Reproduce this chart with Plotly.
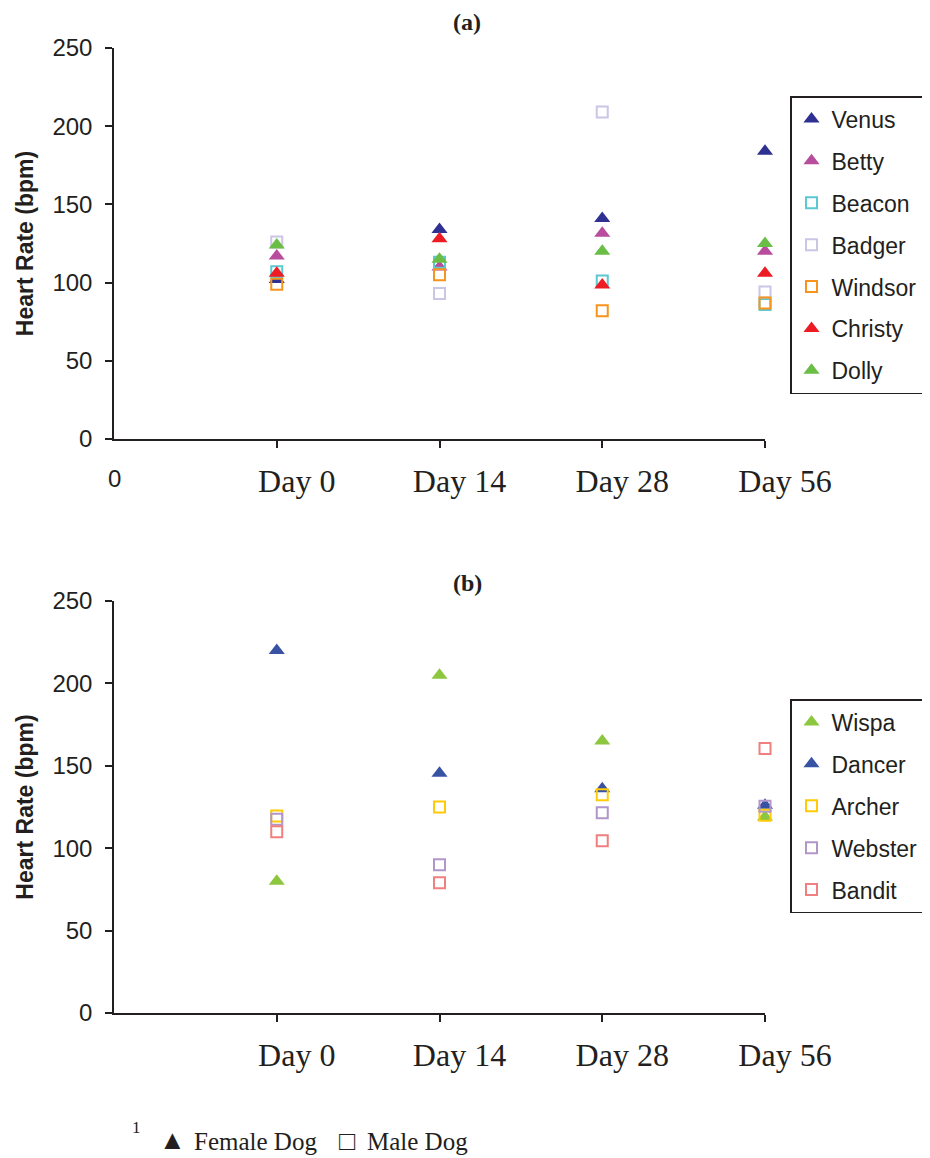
import plotly.graph_objects as go

days = ["Day 0", "Day 14", "Day 28", "Day 56"]
xpos = [1, 2, 3, 4]

# Panel (a)
a_names = ["Venus", "Betty", "Beacon", "Badger", "Windsor", "Christy", "Dolly"]
a_female = [True, True, False, False, False, True, True]
a_colors = ["#2E3192", "#B84D9E", "#5BC8D2", "#C9C6E6", "#F7941D", "#ED1C24", "#6ABD45"]
venus = [102, 134, 141, 184]
betty = [117, 110, 131.5, 120]
beacon = [107, 113, 101, 86]
badger = [126, 93, 209, 94]
windsor = [99, 105, 82, 87]
christy = [106, 128, 98.5, 106]
dolly = [124, 115, 120, 125]
a_values = [venus, betty, beacon, badger, windsor, christy, dolly]

# Panel (b)
b_names = ["Wispa", "Dancer", "Archer", "Webster", "Bandit"]
b_female = [True, True, False, False, False]
b_colors = ["#8DC63F", "#3853A4", "#FFCB05", "#B196CA", "#F08080"]
wispa = [80, 205, 165, 119]
dancer = [220, 145.5, 136, 126]
archer = [119.5, 125, 132.5, 120]
webster = [117.5, 90, 121.5, 125.5]
bandit = [110, 79, 104.5, 160.5]
b_values = [wispa, dancer, archer, webster, bandit]

# page body has an 8px default margin; build the figure in page pixels
OFF = 8
W, H = 930 - OFF, 1158 - OFF
def px(v):
    return (v - OFF) / W
def py(v):
    return 1 - (v - OFF) / H

fig = go.Figure()

def add_series(names, females, colors, values, xa, ya, legend):
    for n, f, c, vals in zip(names, females, colors, values):
        if f:
            marker = dict(symbol="triangle-up", size=14, color=c, line=dict(width=0))
        else:
            marker = dict(symbol="square-open", size=11, color=c, line=dict(width=2, color=c))
        fig.add_trace(go.Scatter(x=xpos, y=vals, mode="markers", name=n, marker=marker,
                                 xaxis=xa, yaxis=ya, legend=legend, legendgroup=legend + n,
                                 cliponaxis=False))

add_series(a_names, a_female, a_colors, a_values, "x", "y", "legend")
add_series(b_names, b_female, b_colors, b_values, "x2", "y2", "legend2")

axis_line = dict(showline=True, linecolor="#231F20", linewidth=1.5, ticks="outside",
                 tickcolor="#231F20", ticklen=7, tickwidth=1.5, showgrid=False, zeroline=False,
                 automargin=False)

# labels sit slightly right of their tick marks in the reference
day_text = ["\u00a0" * 5 + d for d in days]

xcommon = dict(range=[0, 4], tickvals=xpos, ticktext=day_text,
               tickfont=dict(family="Liberation Serif", size=32, color="#231F20"),
               ticklabelstandoff=6, **axis_line)
ycommon = dict(range=[0, 250], tickvals=[0, 50, 100, 150, 200, 250],
               tickfont=dict(family="Liberation Sans", size=24, color="#231F20"),
               ticklabelstandoff=8,
               title=dict(text="<b>Heart Rate (bpm)</b>",
                          font=dict(family="Liberation Sans", size=23, color="#231F20"),
                          standoff=12),
               **axis_line)

legend_common = dict(font=dict(family="Liberation Sans", size=23, color="#231F20"),
                     bordercolor="#231F20", borderwidth=1.5, bgcolor="white",
                     xanchor="left", yanchor="top", tracegroupgap=9, itemwidth=30)

fig.update_layout(
    width=W, height=H, margin=dict(l=0, r=0, t=0, b=0, autoexpand=False),
    paper_bgcolor="white", plot_bgcolor="white",
    xaxis=dict(domain=[px(114), px(765)], anchor="y", **xcommon),
    yaxis=dict(domain=[py(439), py(48)], anchor="x", **ycommon),
    xaxis2=dict(domain=[px(114), px(765)], anchor="y2", **xcommon),
    yaxis2=dict(domain=[py(1013), py(601)], anchor="x2", **ycommon),
    legend=dict(x=px(790), y=py(96), **legend_common),
    legend2=dict(x=px(790), y=py(699), **legend_common),
    showlegend=True,
)

def note(text, x, y, size, family="Liberation Serif", xanchor="left", xref="paper"):
    return dict(text=text, x=x, y=y, xref=xref, yref="paper", showarrow=False,
                xanchor=xanchor, yanchor="middle",
                font=dict(family=family, size=size, color="#231F20"))

ann = [
    note("<b>(a)</b>", px(467), py(22), 24, xanchor="center"),
    note("<b>(b)</b>", px(467), py(583), 24, xanchor="center"),
    note("0", 0, py(478), 24, family="Liberation Sans", xanchor="center", xref="x"),
    note("1", px(130), py(1127), 17),
    note("▲", px(157), py(1140), 27),
    note("Female Dog", px(192), py(1141), 25),
    note("□", px(337), py(1141), 27),
    note("Male Dog", px(365), py(1141), 25),
]
fig.update_layout(annotations=ann)

fig.write_html("out.html")
